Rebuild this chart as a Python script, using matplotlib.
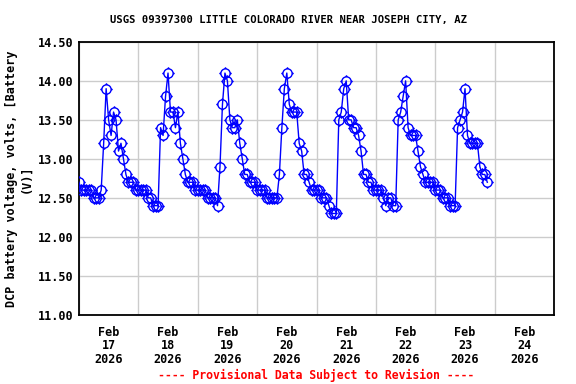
import matplotlib
matplotlib.use("Agg")
import matplotlib.pyplot as plt
import matplotlib.dates as mdates
from matplotlib.path import Path
import numpy as np
import pandas as pd

# hourly DCP battery voltage readings, one list per day (Feb 17 .. Feb 23, 2026)
feb17 = [12.7, 12.6, 12.6, 12.6, 12.6, 12.6, 12.5, 12.5, 12.5, 12.6, 13.2, 13.9,
         13.5, 13.3, 13.6, 13.5, 13.1, 13.2, 13.0, 12.8, 12.7, 12.7, 12.7, 12.6]
feb18 = [12.6, 12.6, 12.6, 12.6, 12.5, 12.5, 12.4, 12.4, 12.4, 13.4, 13.3, 13.8,
         14.1, 13.6, 13.6, 13.4, 13.6, 13.2, 13.0, 12.8, 12.7, 12.7, 12.7, 12.6]
feb19 = [12.6, 12.6, 12.6, 12.6, 12.5, 12.5, 12.5, 12.5, 12.4, 12.9, 13.7, 14.1,
         14.0, 13.5, 13.4, 13.4, 13.5, 13.2, 13.0, 12.8, 12.8, 12.7, 12.7, 12.7]
feb20 = [12.6, 12.6, 12.6, 12.6, 12.5, 12.5, 12.5, 12.5, 12.5, 12.8, 13.4, 13.9,
         14.1, 13.7, 13.6, 13.6, 13.6, 13.2, 13.1, 12.8, 12.8, 12.7, 12.6, 12.6]
feb21 = [12.6, 12.6, 12.5, 12.5, 12.5, 12.4, 12.3, 12.3, 12.3, 13.5, 13.6, 13.9,
         14.0, 13.5, 13.5, 13.4, 13.4, 13.3, 13.1, 12.8, 12.8, 12.7, 12.7, 12.6]
feb22 = [12.6, 12.6, 12.6, 12.5, 12.4, 12.5, 12.5, 12.4, 12.4, 13.5, 13.6, 13.8,
         14.0, 13.4, 13.3, 13.3, 13.3, 13.1, 12.9, 12.8, 12.7, 12.7, 12.7, 12.7]
feb23 = [12.6, 12.6, 12.6, 12.5, 12.5, 12.5, 12.4, 12.4, 12.4, 13.4, 13.5, 13.6,
         13.9, 13.3, 13.2, 13.2, 13.2, 13.2, 12.9, 12.8, 12.8, 12.7]

volts = feb17 + feb18 + feb19 + feb20 + feb21 + feb22 + feb23
times = pd.date_range("2026-02-17 00:00", periods=len(volts), freq="h")

x_start = pd.Timestamp("2026-02-17")
x_end = pd.Timestamp("2026-02-25")
y_ticks = [11.0, 11.5, 12.0, 12.5, 13.0, 13.5, 14.0, 14.5]

title = "USGS 09397300 LITTLE COLORADO RIVER NEAR JOSEPH CITY, AZ"
ylabel = "DCP battery voltage, volts, [Battery\n(V)]"
footer = "---- Provisional Data Subject to Revision ----"

font = {"family": "DejaVu Sans Mono", "weight": "bold"}

# open circle with short ticks sticking out (USGS style marker)
ring = Path.circle((0, 0), 1.0)
stubs = []
for dx, dy in [(0, 1), (0, -1), (1, 0), (-1, 0)]:
    stubs.append(Path([(dx, dy), (dx * 1.35, dy * 1.35)],
                      [Path.MOVETO, Path.LINETO]))
usgs_marker = Path.make_compound_path(ring, *stubs)

fig = plt.figure(figsize=(5.76, 3.84), dpi=100)
ax = fig.add_axes([0.137, 0.180, 0.825, 0.711])

ax.plot(times, volts, color="blue", lw=1.0, zorder=3)
ax.plot(times, volts, ls="none", marker=usgs_marker, ms=9, mfc="none",
        mec="blue", mew=1.0, zorder=4)

ax.set_xlim(x_start, x_end)
ax.set_ylim(11.0, 14.5)
ax.set_yticks(y_ticks)
ax.set_yticklabels(["%.2f" % v for v in y_ticks], fontdict=font, fontsize=8.5)

ax.xaxis.set_major_locator(mdates.DayLocator())
ax.xaxis.set_major_formatter(plt.NullFormatter())
ax.xaxis.set_minor_locator(mdates.HourLocator(byhour=[12]))
ax.xaxis.set_minor_formatter(mdates.DateFormatter("%b\n%d\n%Y"))
for lbl in ax.xaxis.get_minorticklabels():
    lbl.set_fontfamily("DejaVu Sans Mono")
    lbl.set_fontweight("bold")
    lbl.set_fontsize(8.5)
    lbl.set_linespacing(1.05)
ax.tick_params(axis="x", which="both", length=0, pad=8)
ax.tick_params(axis="y", length=0, pad=4)

ax.grid(True, which="major", color="#cccccc", lw=1.0, zorder=0)
for s in ax.spines.values():
    s.set_linewidth(1.3)

ax.set_ylabel(ylabel, fontdict=font, fontsize=8.5, labelpad=4,
              linespacing=1.1)
fig.text(0.5, 0.948, title, ha="center", va="center", fontdict=font,
         fontsize=7.6)
fig.text(0.549, 0.023, footer, ha="center", va="center", color="red",
         fontdict=font, fontsize=8.3)

fig.savefig("out.png", dpi=100)
